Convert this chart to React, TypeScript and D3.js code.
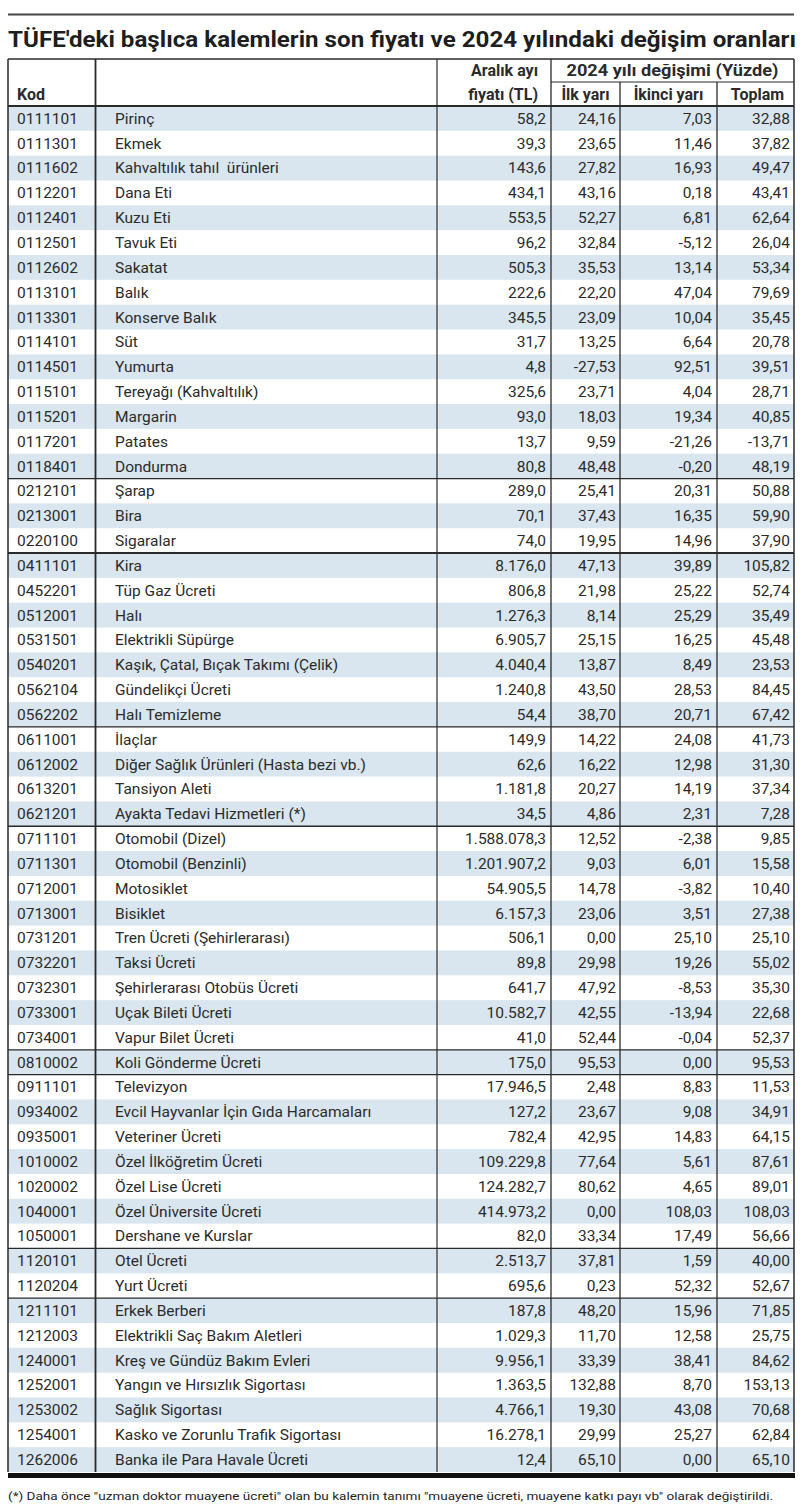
import React from "react";
import * as d3 from "d3";

const codes = ["0111101","0111301","0111602","0112201","0112401","0112501","0112602","0113101","0113301","0114101","0114501","0115101","0115201","0117201","0118401","0212101","0213001","0220100","0411101","0452201","0512001","0531501","0540201","0562104","0562202","0611001","0612002","0613201","0621201","0711101","0711301","0712001","0713001","0731201","0732201","0732301","0733001","0734001","0810002","0911101","0934002","0935001","1010002","1020002","1040001","1050001","1120101","1120204","1211101","1212003","1240001","1252001","1253002","1254001","1262006"];

const names = ["Pirinç","Ekmek","Kahvaltılık tahıl  ürünleri","Dana Eti","Kuzu Eti","Tavuk Eti","Sakatat","Balık","Konserve Balık","Süt","Yumurta","Tereyağı (Kahvaltılık)","Margarin","Patates","Dondurma","Şarap","Bira","Sigaralar","Kira","Tüp Gaz Ücreti","Halı","Elektrikli Süpürge","Kaşık, Çatal, Bıçak Takımı (Çelik)","Gündelikçi Ücreti","Halı Temizleme","İlaçlar","Diğer Sağlık Ürünleri (Hasta bezi vb.)","Tansiyon Aleti","Ayakta Tedavi Hizmetleri (*)","Otomobil (Dizel)","Otomobil (Benzinli)","Motosiklet","Bisiklet","Tren Ücreti (Şehirlerarası)","Taksi Ücreti","Şehirlerarası Otobüs Ücreti","Uçak Bileti Ücreti","Vapur Bilet Ücreti","Koli Gönderme Ücreti","Televizyon","Evcil Hayvanlar İçin Gıda Harcamaları","Veteriner Ücreti","Özel İlköğretim Ücreti","Özel Lise Ücreti","Özel Üniversite Ücreti","Dershane ve Kurslar","Otel Ücreti","Yurt Ücreti","Erkek Berberi","Elektrikli Saç Bakım Aletleri","Kreş ve Gündüz Bakım Evleri","Yangın ve Hırsızlık Sigortası","Sağlık Sigortası","Kasko ve Zorunlu Trafik Sigortası","Banka ile Para Havale Ücreti"];

const prices = [58.2,39.3,143.6,434.1,553.5,96.2,505.3,222.6,345.5,31.7,4.8,325.6,93.0,13.7,80.8,289.0,70.1,74.0,8176.0,806.8,1276.3,6905.7,4040.4,1240.8,54.4,149.9,62.6,1181.8,34.5,1588078.3,1201907.2,54905.5,6157.3,506.1,89.8,641.7,10582.7,41.0,175.0,17946.5,127.2,782.4,109229.8,124282.7,414973.2,82.0,2513.7,695.6,187.8,1029.3,9956.1,1363.5,4766.1,16278.1,12.4];

const firstHalf = [24.16,23.65,27.82,43.16,52.27,32.84,35.53,22.20,23.09,13.25,-27.53,23.71,18.03,9.59,48.48,25.41,37.43,19.95,47.13,21.98,8.14,25.15,13.87,43.50,38.70,14.22,16.22,20.27,4.86,12.52,9.03,14.78,23.06,0.00,29.98,47.92,42.55,52.44,95.53,2.48,23.67,42.95,77.64,80.62,0.00,33.34,37.81,0.23,48.20,11.70,33.39,132.88,19.30,29.99,65.10];

const secondHalf = [7.03,11.46,16.93,0.18,6.81,-5.12,13.14,47.04,10.04,6.64,92.51,4.04,19.34,-21.26,-0.20,20.31,16.35,14.96,39.89,25.22,25.29,16.25,8.49,28.53,20.71,24.08,12.98,14.19,2.31,-2.38,6.01,-3.82,3.51,25.10,19.26,-8.53,-13.94,-0.04,0.00,8.83,9.08,14.83,5.61,4.65,108.03,17.49,1.59,52.32,15.96,12.58,38.41,8.70,43.08,25.27,0.00];

const totals = [32.88,37.82,49.47,43.41,62.64,26.04,53.34,79.69,35.45,20.78,39.51,28.71,40.85,-13.71,48.19,50.88,59.90,37.90,105.82,52.74,35.49,45.48,23.53,84.45,67.42,41.73,31.30,37.34,7.28,9.85,15.58,10.40,27.38,25.10,55.02,35.30,22.68,52.37,95.53,11.53,34.91,64.15,87.61,89.01,108.03,56.66,40.00,52.67,71.85,25.75,84.62,153.13,70.68,62.84,65.10];

// code of the first row of each new group (a rule is drawn above it)
const groupStarts = ["0212101","0411101","0611001","0711101","0810002","0911101","1120101","1211101"];

const title = "TÜFE'deki başlıca kalemlerin son fiyatı ve 2024 yılındaki değişim oranları";
const headerPrice = ["Aralık ayı", "fiyatı (TL)"];
const headerChange = "2024 yılı değişimi (Yüzde)";
const subHeaders = ["İlk yarı", "İkinci yarı", "Toplam"];
const footnote = "(*) Daha önce \"uzman doktor muayene ücreti\" olan bu kalemin tanımı \"muayene ücreti, muayene katkı payı vb\" olarak değiştirildi.";

const trLocale = d3.formatLocale({ decimal: ",", thousands: ".", grouping: [3], currency: ["", " TL"], minus: "-" });
const fmtPrice = trLocale.format(",.1f");
const fmtPct = trLocale.format(".2f");

export default function App() {
  const W = 800, H = 1509;
  const left = 8, right = 794;
  const tableTop = 59, headMid = 82, headBottom = 106, tableBottom = 1472;
  const xs = { kod: 95.5, name: 437, price: 551, first: 620, second: 717 };
  const n = codes.length;
  const y = d3.scaleBand<number>().domain(d3.range(n)).range([headBottom, tableBottom]).paddingInner(0).paddingOuter(0);
  const bw = y.bandwidth();
  const font = "Roboto, 'Noto Sans', sans-serif";
  const textColor = "#2b2b2b";
  const lineColor = "#2a2a2a";
  const stripe = "#d9e6ef";
  const hSize = 16;

  const numCols = [
    { right: xs.price - 5, vals: prices, fmt: fmtPrice },
    { right: xs.first - 4, vals: firstHalf, fmt: fmtPct },
    { right: xs.second - 5, vals: secondHalf, fmt: fmtPct },
    { right: right - 4, vals: totals, fmt: fmtPct },
  ];

  return (
    <svg width={W} height={H} style={{ display: "block", position: "absolute", left: 0, top: 0 }} fontFamily={font}>
      <rect x={0} y={0} width={W} height={H} fill="#fff" />
      <line x1={left} x2={right} y1={14.5} y2={14.5} stroke="#444" strokeWidth={2} />
      <text x={left} y={47} fontSize={21.5} fontWeight={700} fill="#1e1e1e" textLength={right - left + 2} lengthAdjust="spacingAndGlyphs">{title}</text>

      {d3.range(n).map(i => i % 2 === 0 ? (
        <rect key={"s" + i} x={left} y={y(i)} width={right - left} height={bw} fill={stripe} />
      ) : null)}

      <g fontSize={hSize} fontWeight={700} fill={textColor}>
        <text x={17} y={100}>Kod</text>
        <text x={xs.price - 13} y={76} textAnchor="end">{headerPrice[0]}</text>
        <text x={xs.price - 13} y={100} textAnchor="end">{headerPrice[1]}</text>
        <text x={(xs.price + right) / 2} y={76} textAnchor="middle" textLength={212} lengthAdjust="spacingAndGlyphs">{headerChange}</text>
        <text x={(xs.price + xs.first) / 2} y={100} textAnchor="middle">{subHeaders[0]}</text>
        <text x={(xs.first + xs.second) / 2} y={100} textAnchor="middle">{subHeaders[1]}</text>
        <text x={(xs.second + right) / 2 + 2} y={100} textAnchor="middle">{subHeaders[2]}</text>
      </g>

      {d3.range(n).map(i => {
        const cy = (y(i) as number) + bw / 2 + 5.4;
        return (
          <g key={"r" + i} fontSize={15.5} fill={textColor}>
            <text x={17} y={cy}>{codes[i]}</text>
            <text x={115} y={cy} style={{ whiteSpace: "pre" }}>{names[i]}</text>
            {numCols.map((c, j) => (
              <text key={j} x={c.right} y={cy} textAnchor="end">{c.fmt(c.vals[i])}</text>
            ))}
          </g>
        );
      })}

      {groupStarts.map(code => {
        const i = codes.indexOf(code);
        const yy = y(i) as number;
        return <line key={"g" + code} x1={left} x2={right} y1={yy} y2={yy} stroke={lineColor} strokeWidth={code === "0411101" ? 2 : 1.3} />;
      })}

      <line x1={left} x2={right} y1={tableTop} y2={tableTop} stroke={lineColor} strokeWidth={1.5} />
      <line x1={xs.price} x2={right} y1={headMid} y2={headMid} stroke={lineColor} strokeWidth={1.2} />
      <line x1={left} x2={right} y1={headBottom} y2={headBottom} stroke={lineColor} strokeWidth={2} />
      <line x1={left} x2={left} y1={tableTop} y2={tableBottom} stroke={lineColor} strokeWidth={1.5} />
      <line x1={right} x2={right} y1={tableTop} y2={tableBottom} stroke={lineColor} strokeWidth={1.5} />
      <line x1={xs.kod} x2={xs.kod} y1={tableTop} y2={tableBottom} stroke={lineColor} strokeWidth={1.8} />
      <line x1={xs.name} x2={xs.name} y1={tableTop} y2={tableBottom} stroke={lineColor} strokeWidth={1.2} />
      <line x1={xs.price} x2={xs.price} y1={tableTop} y2={tableBottom} stroke={lineColor} strokeWidth={1.3} />
      <line x1={xs.first} x2={xs.first} y1={headMid} y2={tableBottom} stroke={lineColor} strokeWidth={1.3} />
      <line x1={xs.second} x2={xs.second} y1={headMid} y2={tableBottom} stroke={lineColor} strokeWidth={1.3} />
      <rect x={left} y={tableBottom + 1} width={right - left + 1} height={5} fill="#111" />

      <text x={8} y={1500} fontSize={11.5} fill="#1e1e1e" textLength={765} lengthAdjust="spacingAndGlyphs">{footnote}</text>
    </svg>
  );
}
